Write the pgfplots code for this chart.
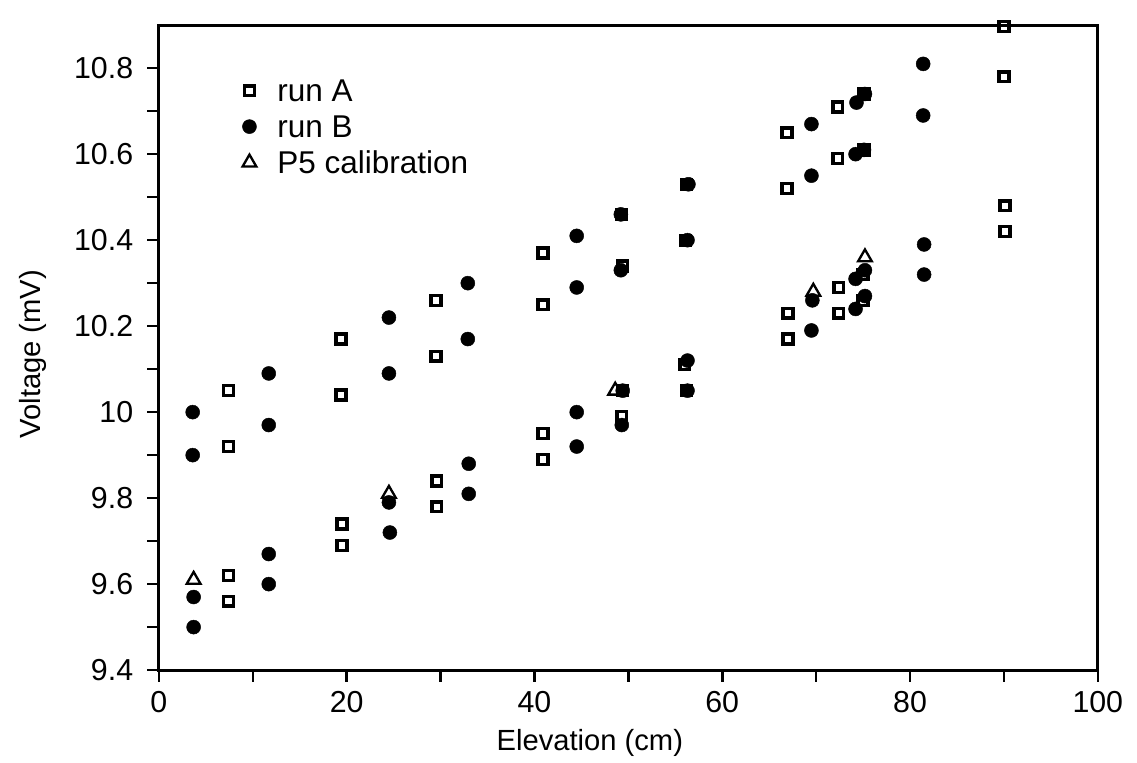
\documentclass[border=0pt]{standalone}
\usepackage{fontspec}
\setmainfont{Liberation Sans}
\usepackage{pgfplots}
\pgfplotsset{compat=1.18}
\begin{document}
\begin{tikzpicture}[font=\fontsize{12.5}{15}\selectfont]
\path[use as bounding box] (-68.1pt,-39.4pt) rectangle (419.2pt,287.2pt);
\begin{axis}[
  at={(0,0)}, anchor=south west,
  scale only axis, width=402.4pt, height=276.4pt,
  xmin=0, xmax=100, ymin=9.4, ymax=10.9,
  axis line style={line width=1.2pt},
  every tick/.style={black, line width=1.1pt},
  tick align=outside, xtick pos=left, ytick pos=left,
  major tick length=5pt, minor tick length=5pt,
  xtick={0,20,40,60,80,100}, minor xtick={10,30,50,70,90},
  ytick={9.4,9.6,9.8,10,10.2,10.4,10.6,10.8},
  minor ytick={9.5,9.7,9.9,10.1,10.3,10.5,10.7},
  /pgf/number format/assume math mode=true,
  tick label style={font=\fontsize{13}{15.6}\selectfont},
  yticklabel style={/pgf/number format/fixed, xshift=-2.5pt},
  xticklabel style={yshift=-0.5pt},
  xlabel={Elevation (cm)}, ylabel={Voltage (mV)},
  every axis x label/.style={at={(axis description cs:0.459,-0.113)}, anchor=center},
  every axis y label/.style={at={(axis description cs:-0.134,0.49)}, rotate=90, anchor=center},
  clip=false,
  legend style={draw=none, fill=none, at={(axis description cs:0.089,0.916)}, anchor=north west,
    inner sep=0pt, outer sep=0pt, font=\fontsize{13.5}{16}\selectfont,
    nodes={inner xsep=4pt, inner ysep=0pt, text height=9.7pt, text depth=0pt},
    row sep=5.7pt,
    /tikz/every odd column/.append style={column sep=5pt}},
  legend cell align=left,
]
\addplot[only marks, mark=square, mark size=2.1pt, line width=1.5pt] table {
x y
7.4 10.05
7.4 9.92
7.4 9.62
7.4 9.56
19.4 10.17
19.4 10.04
19.5 9.74
19.5 9.69
29.5 10.26
29.5 10.13
29.6 9.84
29.6 9.78
40.9 10.37
40.9 10.25
40.9 9.95
40.9 9.89
49.3 10.46
49.4 10.34
49.4 10.05
49.3 9.99
56.2 10.53
56.1 10.40
56.0 10.11
56.2 10.05
66.9 10.65
66.9 10.52
67.0 10.23
67.0 10.17
72.3 10.71
72.3 10.59
72.4 10.29
72.4 10.23
75.1 10.74
75.1 10.61
75.0 10.32
75.0 10.26
90.0 10.897
90.0 10.78
90.1 10.48
90.1 10.42
};
\addlegendentry{run A}
\addplot[only marks, mark=*, mark size=3pt, mark options={draw=black, fill=black, line width=0.2pt}] table {
x y
3.6 10.00
3.6 9.90
3.7 9.57
3.7 9.50
11.7 10.09
11.7 9.97
11.7 9.67
11.7 9.60
24.5 10.22
24.5 10.09
24.5 9.79
24.6 9.72
32.9 10.30
32.9 10.17
33.0 9.88
33.0 9.81
44.5 10.41
44.5 10.29
44.5 10.00
44.5 9.92
49.2 10.46
49.2 10.33
49.4 10.05
49.3 9.97
56.4 10.53
56.3 10.40
56.3 10.12
56.3 10.05
69.5 10.67
69.5 10.55
69.6 10.26
69.5 10.19
74.3 10.72
75.2 10.74
74.2 10.60
75.1 10.61
74.2 10.31
75.2 10.33
74.2 10.24
75.2 10.27
81.4 10.81
81.4 10.69
81.5 10.39
81.5 10.32
};
\addlegendentry{run B}
\addplot[only marks, mark=triangle, mark size=3.4pt, line width=1pt] table {
x y
3.7 9.61
24.5 9.81
48.6 10.05
69.7 10.28
75.2 10.36
};
\addlegendentry{P5 calibration}
\end{axis}
\end{tikzpicture}
\end{document}
